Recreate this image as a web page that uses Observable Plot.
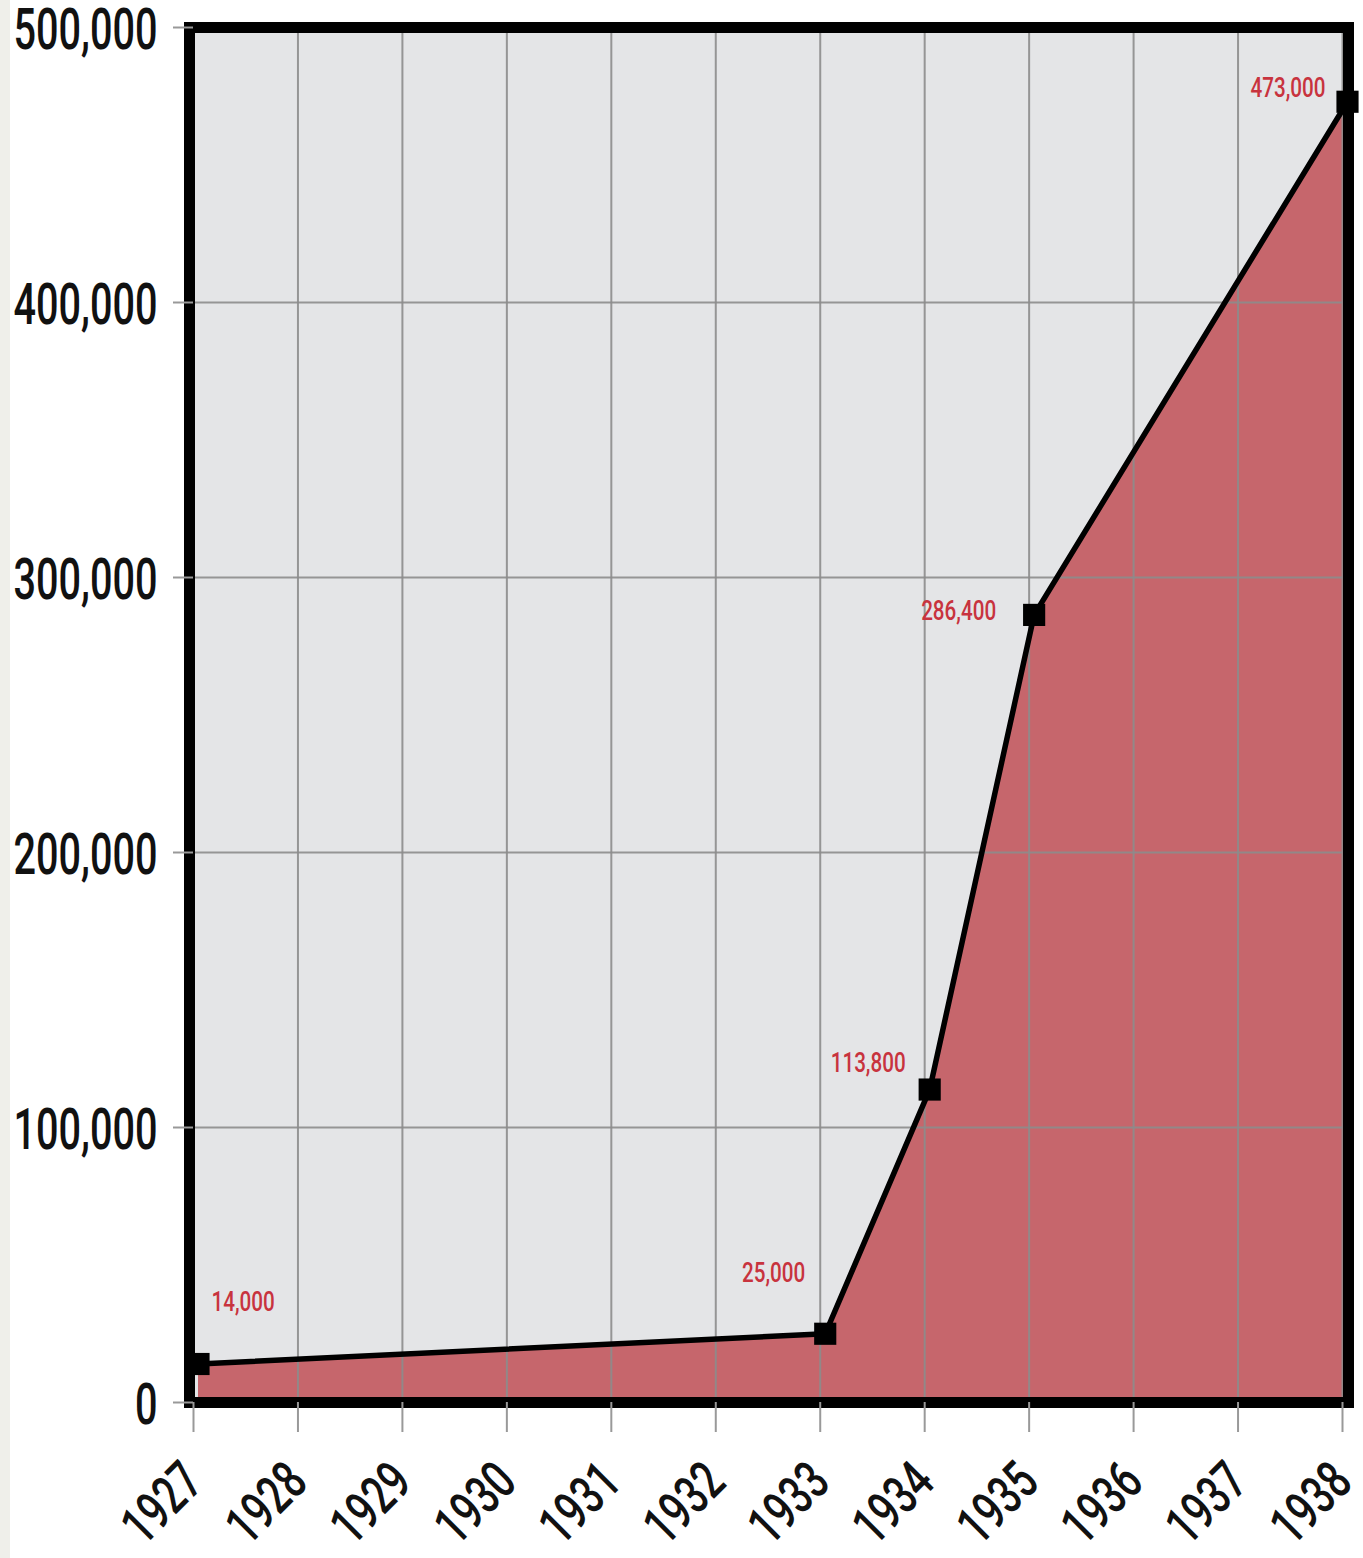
<!DOCTYPE html>
<html>
<head>
<meta charset="utf-8">
<script src="https://cdn.jsdelivr.net/npm/d3@7"></script>
<script src="https://cdn.jsdelivr.net/npm/@observablehq/plot@0.6"></script>
<style>
  html, body { margin: 0; padding: 0; }
  body { background: linear-gradient(to right, #efefea 10px, #ffffff 10px); width: 1363px; height: 1558px; }
  #chart svg { display: block; }
</style>
</head>
<body>
<div id="chart"></div>
<script>
// Data
const years = [1927, 1933, 1934, 1935, 1938];
const values = [14000, 25000, 113800, 286400, 473000];
const labels = ["14,000", "25,000", "113,800", "286,400", "473,000"];
const xTicks = [1927, 1928, 1929, 1930, 1931, 1932, 1933, 1934, 1935, 1936, 1937, 1938];
const yTicks = [0, 100000, 200000, 300000, 400000, 500000];

const data = years.map((y, i) => ({year: y, value: values[i], label: labels[i]}));

// label placement (offsets relative to data point)
const placement = [
  {anchor: "start", dx: 18, dy: -62},
  {anchor: "end", dx: -15, dy: -61},
  {anchor: "end", dx: -19, dy: -27},
  {anchor: "end", dx: -33, dy: -4},
  {anchor: "end", dx: -17, dy: -14}
];

const font = "Roboto, 'DejaVu Sans Condensed', sans-serif";
const red = "#c8333e";
const off = 5;

const labelMarks = data.map((d, i) => Plot.text([d], {
  x: "year", y: "value", text: "label",
  textAnchor: placement[i].anchor, dx: placement[i].dx, dy: placement[i].dy,
  fill: red, fontSize: 28, fontWeight: 500, fontFamily: font
}));

const chart = Plot.plot({
  width: 1363,
  height: 1558,
  marginTop: 27,
  marginRight: 21,
  marginBottom: 156,
  marginLeft: 193,
  style: {background: "transparent", fontFamily: font, color: "#111"},
  x: {domain: [1927, 1938]},
  y: {domain: [0, 500000]},
  marks: [
    Plot.frame({fill: "#e4e5e7", stroke: "none"}),
    Plot.areaY(data, {x: "year", y: "value", fill: "#c6666c", dx: off}),
    Plot.gridX(xTicks, {stroke: "#8c8c8c", strokeOpacity: 0.9, strokeWidth: 2}),
    Plot.gridY(yTicks, {stroke: "#8c8c8c", strokeOpacity: 0.9, strokeWidth: 2}),
    Plot.lineY(data, {x: "year", y: "value", stroke: "#000", strokeWidth: 5.5, dx: off}),
    Plot.dot(data, {x: "year", y: "value", symbol: "square", r: 12.5, fill: "#000", dx: off}),
    ...labelMarks,
    Plot.frame({stroke: "#000", strokeWidth: 11, insetLeft: -4, insetRight: -6}),
    // y tick lines
    Plot.axisY(yTicks, {
      tickFormat: () => "", tickSize: 20, stroke: "#999", strokeWidth: 2, label: null
    }),
    // y tick labels
    Plot.axisY(yTicks, {
      tickFormat: d3.format(","), tickSize: 20, tickPadding: 16, dy: 3,
      stroke: "none", fontSize: 57, fontWeight: 500, fill: "#111", label: null
    }),
    Plot.axisX(xTicks, {
      tickFormat: d => String(d), tickSize: 30, tickPadding: 40, tickRotate: -45,
      stroke: "#999", strokeWidth: 2, fontSize: 54, fontWeight: 500, fill: "#111", label: null
    })
  ]
});
document.getElementById("chart").appendChild(chart);

// Condense glyphs to mimic the narrow typeface of the original
function condense(selector, refText, target) {
  const nodes = Array.from(chart.querySelectorAll(selector)).filter(n => n.textContent !== "");
  if (!nodes.length) return;
  const ref = nodes.find(n => n.textContent === refText) || nodes[0];
  const k = target / ref.getComputedTextLength();
  nodes.forEach(n => {
    const L = n.getComputedTextLength();
    n.setAttribute("textLength", (L * k).toFixed(2));
    n.setAttribute("lengthAdjust", "spacingAndGlyphs");
  });
}
condense('g[aria-label="y-axis tick label"] text', "500,000", 144);
condense('g[aria-label="x-axis tick label"] text', "1930", 88);
condense('g[aria-label="text"] text', "473,000", 75);
</script>
</body>
</html>
